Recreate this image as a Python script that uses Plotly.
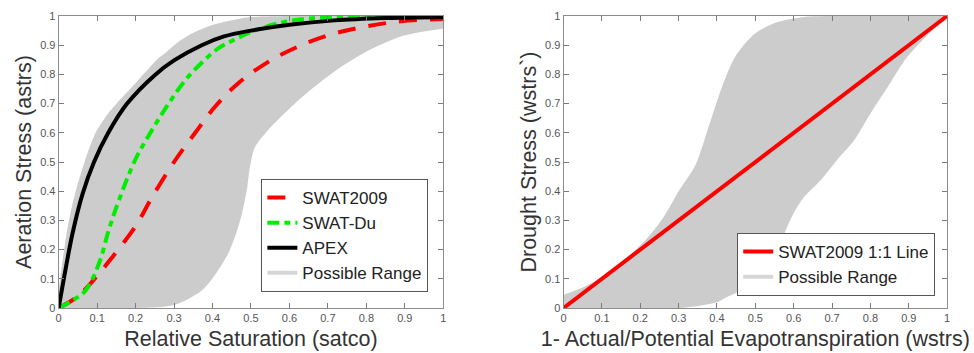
import plotly.graph_objects as go

# ---------- Left panel data ----------
range_up_x = [0, 0.01, 0.02, 0.035, 0.053, 0.075, 0.096, 0.125, 0.157, 0.2, 0.234, 0.255, 0.277, 0.31, 0.346, 0.39, 0.432, 0.49, 0.6, 1.0]
range_up_y = [0.06, 0.16, 0.25, 0.35, 0.44, 0.53, 0.60, 0.66, 0.71, 0.77, 0.82, 0.85, 0.873, 0.91, 0.94, 0.965, 0.98, 0.995, 1.0, 1.0]
range_lo_x = [0, 0.2, 0.3, 0.372, 0.41, 0.441, 0.46, 0.476, 0.49, 0.497, 0.51, 0.545, 0.631, 0.717, 0.803, 0.89, 1.0]
range_lo_y = [0, 0.0, 0.01, 0.06, 0.12, 0.187, 0.25, 0.32, 0.41, 0.48, 0.55, 0.61, 0.72, 0.81, 0.88, 0.93, 0.957]

apex_x = [0, 0.019, 0.036, 0.062, 0.092, 0.129, 0.178, 0.252, 0.3, 0.372, 0.43, 0.5, 0.6, 0.717, 0.85, 1.0]
apex_y = [0, 0.14, 0.255, 0.39, 0.5, 0.6, 0.7, 0.8, 0.848, 0.9, 0.93, 0.95, 0.97, 0.985, 0.993, 0.997]

du_x = [0, 0.035, 0.07, 0.105, 0.131, 0.157, 0.2, 0.243, 0.286, 0.329, 0.372, 0.416, 0.459, 0.5, 0.588, 0.717, 1.0]
du_y = [0, 0.025, 0.06, 0.153, 0.27, 0.37, 0.51, 0.61, 0.70, 0.78, 0.84, 0.89, 0.92, 0.945, 0.98, 0.997, 1.0]

swat_x = [0, 0.05, 0.1, 0.14, 0.2, 0.243, 0.303, 0.355, 0.407, 0.467, 0.545, 0.631, 0.717, 0.803, 0.89, 1.0]
swat_y = [0, 0.04, 0.11, 0.175, 0.28, 0.38, 0.506, 0.6, 0.69, 0.77, 0.843, 0.9, 0.94, 0.965, 0.982, 0.99]

# ---------- Right panel data ----------
d_up_x = [0, 0.05, 0.1, 0.15, 0.214, 0.26, 0.3, 0.344, 0.378, 0.413, 0.447, 0.499, 0.56, 0.629, 0.7, 1.0]
d_up_y = [0.045, 0.07, 0.105, 0.155, 0.233, 0.31, 0.40, 0.49, 0.62, 0.757, 0.86, 0.94, 0.98, 0.997, 1.0, 1.0]
d_lo_x = [0, 0.3, 0.4, 0.43, 0.5, 0.54, 0.568, 0.594, 0.624, 0.672, 0.715, 0.758, 0.8, 0.845, 0.896, 1.0]
d_lo_y = [0, 0.0, 0.02, 0.04, 0.085, 0.14, 0.23, 0.31, 0.375, 0.44, 0.51, 0.575, 0.666, 0.757, 0.86, 1.0]

line_x = [0, 1]
line_y = [0, 1]

tick_vals = [0, 0.1, 0.2, 0.3, 0.4, 0.5, 0.6, 0.7, 0.8, 0.9, 1]
tick_text = ["0", "0.1", "0.2", "0.3", "0.4", "0.5", "0.6", "0.7", "0.8", "0.9", "1"]

FONT = "Liberation Sans, Arial, sans-serif"
GRAY = "#cccccc"

fig = go.Figure()

def band(lx, ly, ux, uy, xa, ya):
    fig.add_trace(go.Scatter(x=lx, y=ly, mode="lines", line=dict(width=0, color=GRAY, shape="spline", smoothing=0.8),
                             showlegend=False, hoverinfo="skip", xaxis=xa, yaxis=ya))
    fig.add_trace(go.Scatter(x=ux, y=uy, mode="lines", fill="tonexty", fillcolor=GRAY,
                             line=dict(width=0, color=GRAY, shape="spline", smoothing=0.8),
                             showlegend=False, hoverinfo="skip", xaxis=xa, yaxis=ya))

# Left panel
band(range_lo_x, range_lo_y, range_up_x, range_up_y, "x", "y")
fig.add_trace(go.Scatter(x=swat_x, y=swat_y, mode="lines", name="SWAT2009",
                         line=dict(color="#ff0000", width=4, dash="18px,13px", shape="spline"),
                         xaxis="x", yaxis="y", legend="legend"))
fig.add_trace(go.Scatter(x=du_x, y=du_y, mode="lines", name="SWAT-Du",
                         line=dict(color="#00ee00", width=4, dash="12px,5px,6px,5px", shape="spline"),
                         xaxis="x", yaxis="y", legend="legend"))
fig.add_trace(go.Scatter(x=apex_x, y=apex_y, mode="lines", name="APEX",
                         line=dict(color="#000000", width=4, shape="spline"),
                         xaxis="x", yaxis="y", legend="legend"))
fig.add_trace(go.Scatter(x=[None], y=[None], mode="lines", name="Possible Range",
                         line=dict(color="#d6d6d6", width=4),
                         xaxis="x", yaxis="y", legend="legend"))

# Right panel
band(d_lo_x, d_lo_y, d_up_x, d_up_y, "x2", "y2")
fig.add_trace(go.Scatter(x=line_x, y=line_y, mode="lines", name="SWAT2009 1:1 Line",
                         line=dict(color="#ff0000", width=4),
                         xaxis="x2", yaxis="y2", legend="legend2"))
fig.add_trace(go.Scatter(x=[None], y=[None], mode="lines", name="Possible Range",
                         line=dict(color="#d6d6d6", width=4),
                         xaxis="x2", yaxis="y2", legend="legend2"))

axis_common = dict(range=[0, 1], tickvals=tick_vals, ticktext=tick_text,
                   ticks="inside", ticklen=5, tickcolor="#7a7a7a", tickwidth=1,
                   showline=True, linecolor="#8c8c8c", linewidth=1, mirror="ticks",
                   showgrid=False, zeroline=False,
                   tickfont=dict(family=FONT, size=11, color="#555555"))

TF = dict(size=21.5, color="#333333")

fig.update_layout(
    width=974, height=353,
    margin=dict(l=0, r=0, t=16, b=45),
    paper_bgcolor="white", plot_bgcolor="white",
    font=dict(family=FONT),
    xaxis=dict(domain=[56/974, 443/974], anchor="y",
               title=dict(text="Relative Saturation (satco)", font=TF, standoff=7),
               **axis_common),
    yaxis=dict(domain=[0, 1], anchor="x",
               title=dict(text="Aeration Stress (astrs)", font=TF, standoff=2),
               **axis_common),
    xaxis2=dict(domain=[564/974, 950/974], anchor="y2",
                title=dict(text="1- Actual/Potential Evapotranspiration (wstrs)", font=TF, standoff=7),
                **axis_common),
    yaxis2=dict(domain=[0, 1], anchor="x2",
                title=dict(text="Drought Stress (wstrs`)", font=TF, standoff=2),
                **axis_common),
    legend=dict(x=428/974, xanchor="right", y=(308-292)/292, yanchor="bottom",
                bgcolor="white", bordercolor="#555555", borderwidth=1,
                font=dict(family=FONT, size=17, color="#222222"),
                traceorder="normal", tracegroupgap=0, itemwidth=30),
    legend2=dict(x=938/974, xanchor="right", y=(308-296)/292, yanchor="bottom",
                 bgcolor="white", bordercolor="#555555", borderwidth=1,
                 font=dict(family=FONT, size=17, color="#222222"),
                 traceorder="normal", tracegroupgap=0, itemwidth=30),
)

fig.write_html("out.html")
